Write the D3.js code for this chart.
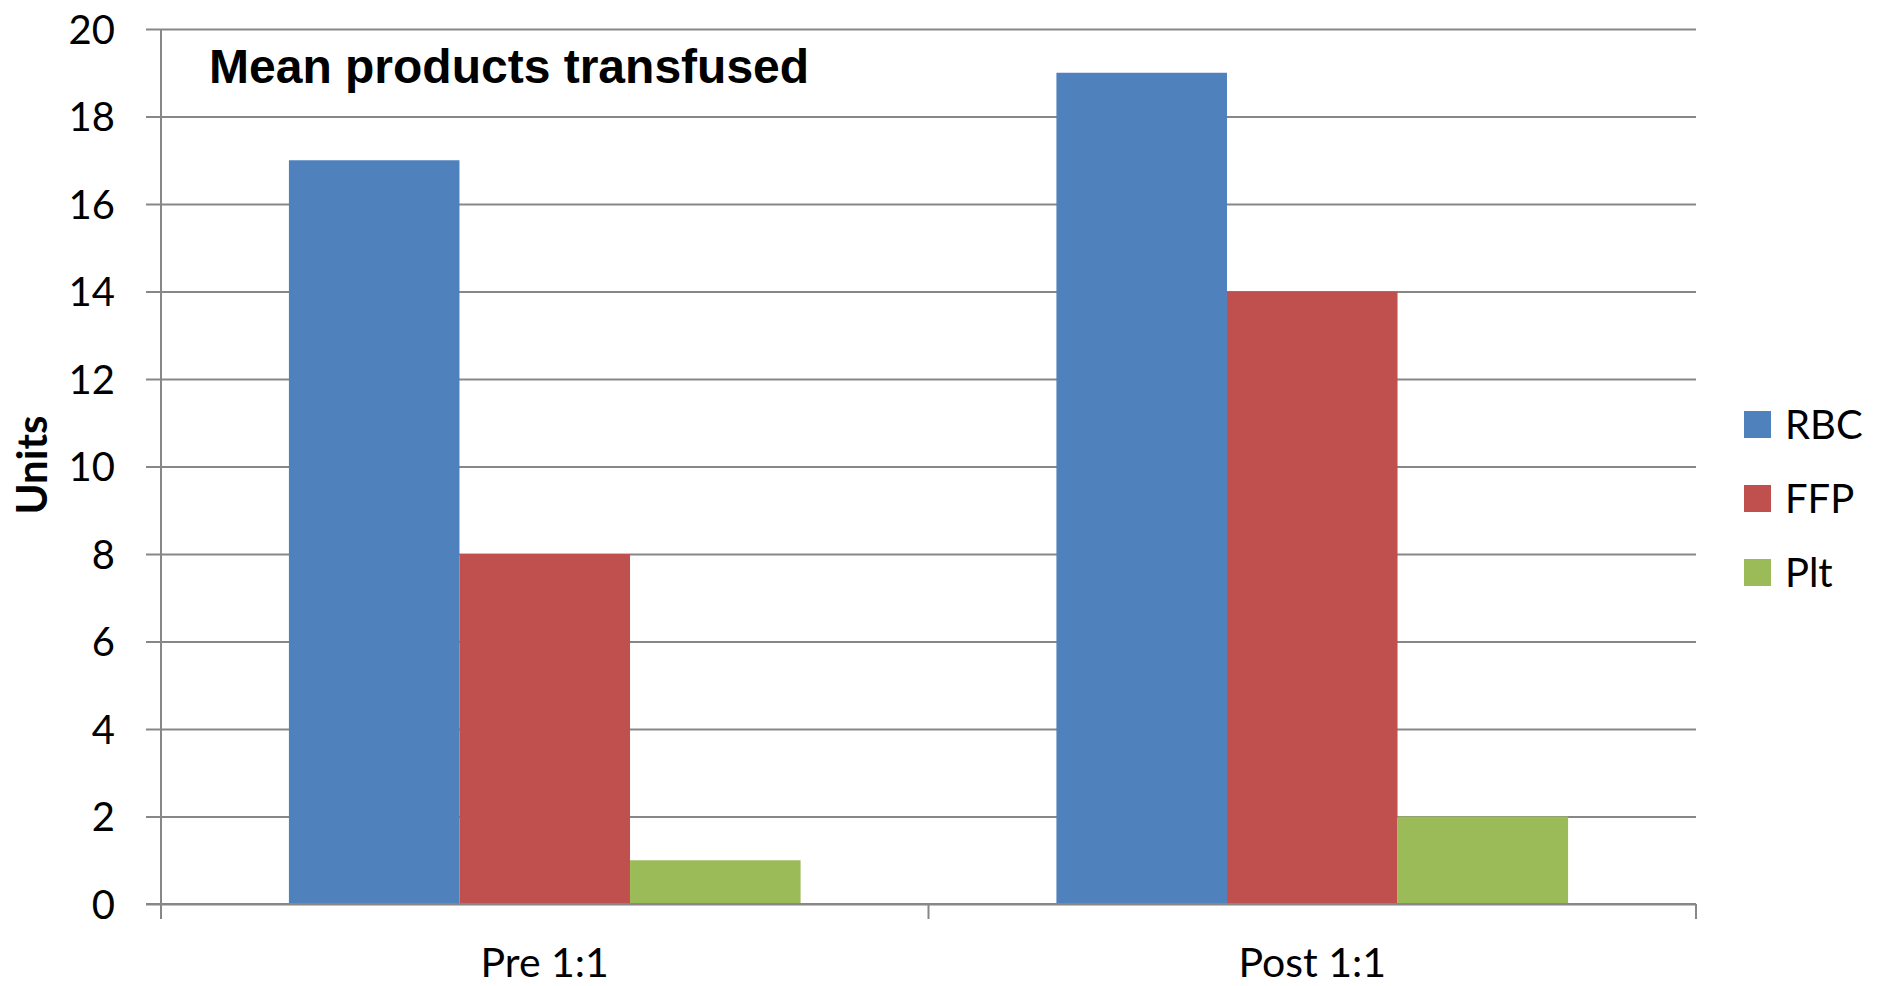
<!DOCTYPE html>
<meta charset="utf-8">
<html>
<head>
	<script src="https://d3js.org/d3.v7.min.js"></script>
	<style>
		body { margin: 0; background: #fff; }
	</style>
</head>
<body>

<div id="chart"></div>

<script>

// data
var categories = ["Pre 1:1", "Post 1:1"];
var series = ["RBC", "FFP", "Plt"];
var rbcValues = [17, 19];
var ffpValues = [8, 14];
var pltValues = [1, 2];
var yTicks = [0, 2, 4, 6, 8, 10, 12, 14, 16, 18, 20];
var colors = ["#4F81BD", "#C0504D", "#9BBB59"];

var valuesBySeries = [rbcValues, ffpValues, pltValues];

var width = 1881, height = 986;
var margin = {top: 29, right: 185, bottom: 82, left: 161};
var plotW = width - margin.left - margin.right;
var plotH = height - margin.top - margin.bottom;

var svg = d3.select("#chart")
  .append("svg")
    .attr("width", width)
    .attr("height", height);

var g = svg.append("g")
    .attr("transform", "translate(" + margin.left + "," + margin.top + ")");

var x0 = d3.scaleBand()
  .domain(categories)
  .range([0, plotW])
  .padding(0);

var x1 = d3.scaleBand()
  .domain(series)
  .range([0, x0.bandwidth()])
  .paddingInner(0)
  .paddingOuter(0.75);

var y = d3.scaleLinear()
  .domain([0, 20])
  .range([plotH, 0]);

var gridColor = "#878787";

// horizontal gridlines + left axis labels (gridlines start 15px left of the axis)
var yAxis = d3.axisLeft(y)
  .tickValues(yTicks)
  .tickSize(-(plotW + 15))
  .tickPadding(31)
  .tickFormat(d3.format("d"));

g.append("g")
  .attr("transform", "translate(-15,0)")
  .call(yAxis)
  .call(function(a) {
    a.select(".domain").remove();
    a.selectAll(".tick line").attr("stroke", gridColor).attr("stroke-width", 2);
    a.selectAll(".tick text")
      .attr("x", -31)
      .attr("dy", "0.36em")
      .style("font-family", "Lato, sans-serif")
      .style("font-size", "40px")
      .style("fill", "#000");
  });

// bars
series.forEach(function(s, i) {
  g.selectAll("rect.s" + i)
    .data(valuesBySeries[i])
    .enter()
    .append("rect")
    .attr("class", "s" + i)
    .attr("x", function(d, j) { return x0(categories[j]) + x1(s); })
    .attr("y", function(d) { return y(d); })
    .attr("width", x1.bandwidth())
    .attr("height", function(d) { return plotH - y(d); })
    .attr("fill", colors[i]);
});

// vertical axis line
g.append("line")
  .attr("x1", 0).attr("x2", 0)
  .attr("y1", 0).attr("y2", plotH + 15)
  .attr("stroke", gridColor).attr("stroke-width", 2);

// bottom axis
var xAxisLine = g.append("g").attr("transform", "translate(0," + plotH + ")");
xAxisLine.append("line")
  .attr("x1", -15).attr("x2", plotW)
  .attr("stroke", gridColor).attr("stroke-width", 2);

var boundaries = [0].concat(categories.map(function(c) { return x0(c) + x0.bandwidth(); }));
xAxisLine.selectAll("line.tk")
  .data(boundaries)
  .enter()
  .append("line")
  .attr("class", "tk")
  .attr("x1", function(d) { return d; })
  .attr("x2", function(d) { return d; })
  .attr("y1", 0).attr("y2", 15)
  .attr("stroke", gridColor).attr("stroke-width", 2);

xAxisLine.selectAll("text")
  .data(categories)
  .enter()
  .append("text")
  .attr("x", function(d) { return x0(d) + x0.bandwidth() / 2; })
  .attr("y", 73)
  .attr("text-anchor", "middle")
  .style("font-family", "Lato, sans-serif")
  .style("font-size", "41px")
  .text(function(d) { return d; });

// title
svg.append("text")
  .attr("x", 209)
  .attr("y", 83)
  .style("font-family", "'Liberation Sans', Arial, sans-serif")
  .style("font-weight", "bold")
  .style("font-size", "48px")
  .text("Mean products transfused");

// y title
svg.append("text")
  .attr("transform", "translate(47,465) rotate(-90)")
  .attr("text-anchor", "middle")
  .style("font-family", "Lato, sans-serif")
  .style("font-weight", "bold")
  .style("font-size", "42px")
  .text("Units");

// legend
var legend = svg.selectAll("g.legend")
  .data(series)
  .enter()
  .append("g")
  .attr("class", "legend")
  .attr("transform", function(d, i) { return "translate(1744," + (411 + i * 74) + ")"; });

legend.append("rect")
  .attr("width", 27)
  .attr("height", 27)
  .attr("fill", function(d, i) { return colors[i]; });

legend.append("text")
  .attr("x", 41)
  .attr("y", 13.5)
  .attr("dy", "0.36em")
  .style("font-family", "Lato, sans-serif")
  .style("font-size", "40px")
  .text(function(d) { return d; });

</script>

</body>
</html>
